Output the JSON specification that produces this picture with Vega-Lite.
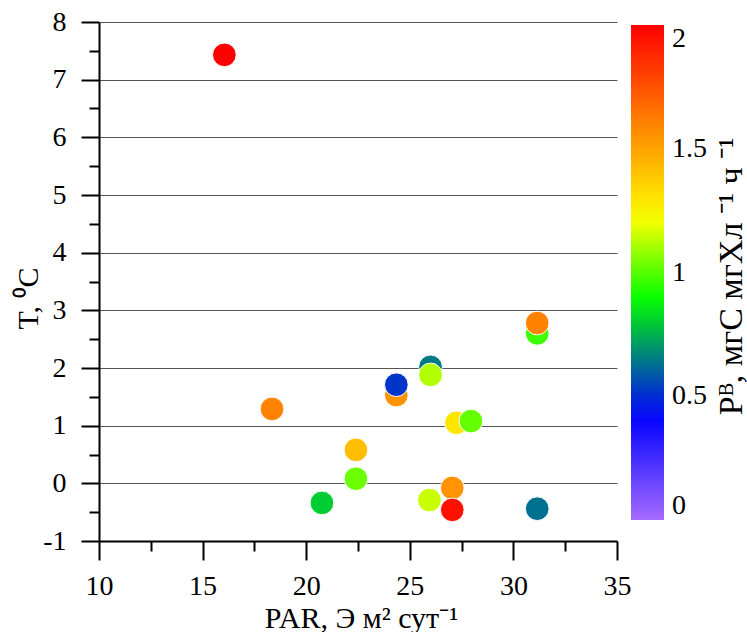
{
  "$schema": "https://vega.github.io/schema/vega-lite/v6.json",
  "autosize": "none",
  "width": 518,
  "height": 519,
  "padding": {"left": 99, "top": 22, "right": 130, "bottom": 91},
  "background": "white",
  "config": {
    "view": {"stroke": null},
    "font": "Times New Roman",
    "axis": {"labelFont": "Times New Roman", "titleFont": "Times New Roman"},
    "legend": {"labelFont": "Times New Roman", "titleFont": "Times New Roman"}
  },
  "data": {
    "values": [
      {"par": 16.05, "t": 7.43, "pb": 2.0},
      {"par": 18.35, "t": 1.29, "pb": 1.6},
      {"par": 20.76, "t": -0.34, "pb": 0.8},
      {"par": 22.4, "t": 0.58, "pb": 1.42},
      {"par": 22.4, "t": 0.08, "pb": 1.03},
      {"par": 24.35, "t": 1.53, "pb": 1.55},
      {"par": 24.35, "t": 1.71, "pb": 0.52},
      {"par": 26.0, "t": 2.02, "pb": 0.65},
      {"par": 26.0, "t": 1.88, "pb": 1.12},
      {"par": 27.25, "t": 1.05, "pb": 1.3},
      {"par": 27.95, "t": 1.08, "pb": 1.02},
      {"par": 25.95, "t": -0.29, "pb": 1.15},
      {"par": 27.05, "t": -0.08, "pb": 1.55},
      {"par": 27.05, "t": -0.46, "pb": 1.95},
      {"par": 31.15, "t": -0.44, "pb": 0.63},
      {"par": 31.15, "t": 2.6, "pb": 0.97},
      {"par": 31.15, "t": 2.78, "pb": 1.6}
    ]
  },
  "encoding": {
    "x": {
      "field": "par",
      "type": "quantitative",
      "scale": {"domain": [10, 35], "nice": false, "zero": false},
      "axis": {
        "title": "PAR, Э м² сут⁻¹",
        "values": [10, 12.5, 15, 17.5, 20, 22.5, 25, 27.5, 30, 32.5, 35],
        "labelExpr": "datum.value % 5 === 0 ? '' + datum.value : ''",
        "grid": false,
        "domainColor": "black",
        "domainWidth": 2,
        "tickColor": "black",
        "tickWidth": 2,
        "tickSize": {"condition": {"test": "datum.value % 5 === 0", "value": 19}, "value": 10},
        "labelPadding": 12,
        "labelFont": "Times New Roman",
        "labelFontSize": 28,
        "labelColor": "black",
        "labelFlush": false,
        "labelOverlap": false,
        "titleFont": "Times New Roman",
        "titleFontSize": 30,
        "titleFontWeight": "normal",
        "titleColor": "black",
        "titleX": 262,
        "titleY": 86,
        "titleAlign": "center",
        "titleBaseline": "alphabetic"
      }
    }
  },
  "layer": [
    {
      "mark": {"type": "circle", "size": 560, "opacity": 1, "stroke": "white", "strokeWidth": 1},
      "encoding": {
        "y": {
          "field": "t",
          "type": "quantitative",
          "scale": {"domain": [-1, 8], "nice": false, "zero": false},
          "axis": {
            "title": "T, ⁰C",
            "values": [-1, -0.5, 0, 0.5, 1, 1.5, 2, 2.5, 3, 3.5, 4, 4.5, 5, 5.5, 6, 6.5, 7, 7.5, 8],
            "labelExpr": "datum.value % 1 === 0 ? '' + datum.value : ''",
            "grid": true,
            "gridColor": "#555555",
            "gridWidth": 1.2,
            "gridOpacity": {"condition": {"test": "datum.value % 1 === 0", "value": 1}, "value": 0},
            "domainColor": "black",
            "domainWidth": 2,
            "tickColor": "black",
            "tickWidth": 2,
            "tickSize": {"condition": {"test": "datum.value % 1 === 0", "value": 18}, "value": 10},
            "labelPadding": 15,
            "labelFont": "Times New Roman",
            "labelFontSize": 28,
            "labelColor": "black",
            "labelFlush": false,
            "labelOverlap": false,
            "titleFont": "Times New Roman",
            "titleFontSize": 30,
            "titleFontWeight": "normal",
            "titleColor": "black",
            "titleX": -62,
            "titleY": 276,
            "titleAngle": 270,
            "titleAlign": "center",
            "titleBaseline": "alphabetic"
          }
        },
        "color": {
          "field": "pb",
          "type": "quantitative",
          "scale": {
            "type": "linear",
            "domain": [0, 0.42, 0.66, 0.89, 1.22, 2],
            "range": ["#a66cff", "#0000ff", "#008080", "#00ff00", "#ffff00", "#ff0000"],
            "interpolate": "rgb"
          },
          "legend": {
            "title": null,
            "orient": "none",
            "legendX": 532,
            "legendY": 3,
            "direction": "vertical",
            "gradientLength": 495,
            "gradientThickness": 33,
            "gradientStrokeWidth": 0,
            "values": [0, 0.5, 1, 1.5, 2],
            "labelExpr": "'' + datum.value",
            "labelFont": "Times New Roman",
            "labelFontSize": 28,
            "labelColor": "black",
            "labelOffset": 8,
            "labelBaseline": "middle",
            "labelOverlap": false
          }
        }
      }
    },
    {
      "mark": {"type": "circle", "size": 560, "opacity": 0},
      "encoding": {
        "y": {
          "field": "t",
          "type": "quantitative",
          "axis": {
            "orient": "right",
            "title": "Pᴮ, мгС мгХл ⁻¹ ч ⁻¹",
            "labels": false,
            "ticks": false,
            "domain": false,
            "grid": false,
            "titleFont": "Times New Roman",
            "titleFontSize": 34,
            "titleFontWeight": "normal",
            "titleColor": "black",
            "titleLimit": 1000,
            "titleX": 124,
            "titleY": 254,
            "titleAngle": 270,
            "titleAlign": "center",
            "titleBaseline": "alphabetic"
          }
        }
      }
    }
  ],
  "resolve": {"axis": {"y": "independent"}}
}
